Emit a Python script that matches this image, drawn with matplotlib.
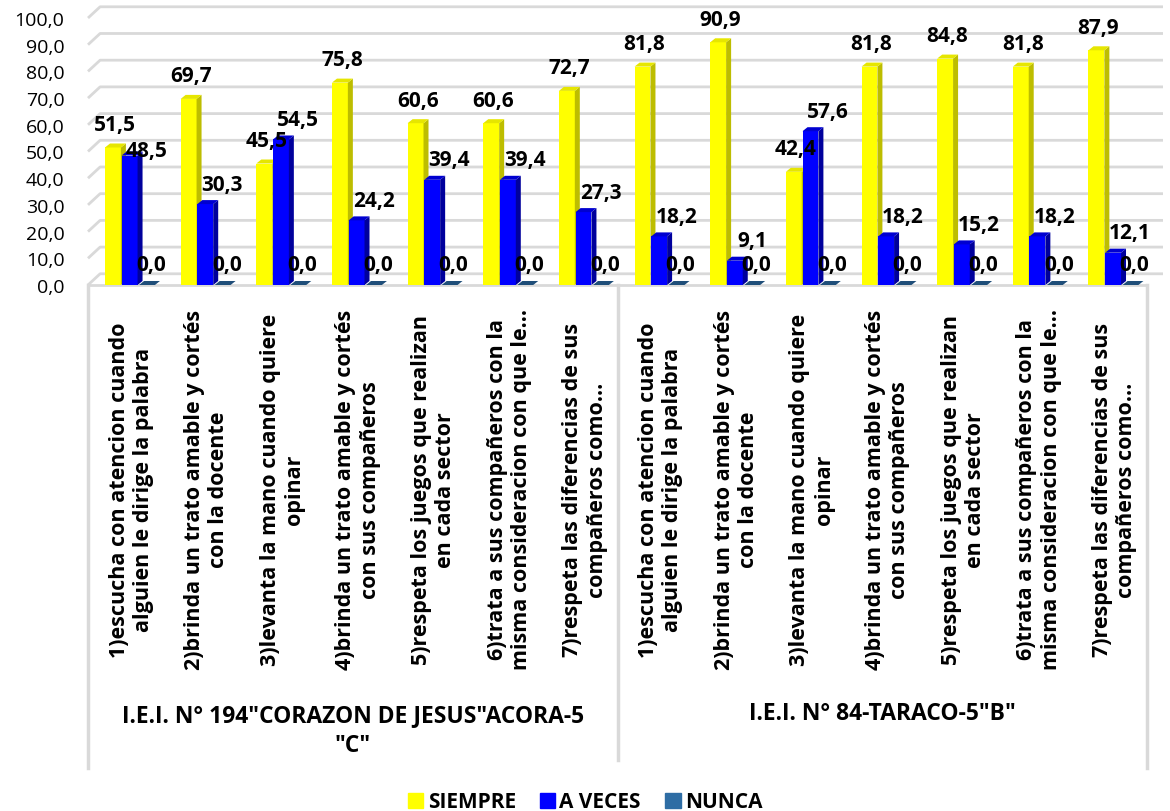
import matplotlib
matplotlib.use("Agg")
import matplotlib.pyplot as plt
from matplotlib.patches import Polygon, Patch

plt.rcParams['font.family'] = ['Open Sans', 'DejaVu Sans']

items = [
    "1)escucha con atencion cuando\nalguien le dirige la palabra",
    "2)brinda un trato amable y cortés\ncon la docente",
    "3)levanta la mano cuando quiere\nopinar",
    "4)brinda un trato amable y cortés\ncon sus compañeros",
    "5)respeta los juegos que realizan\nen cada sector",
    "6)trata a sus compañeros con la\nmisma consideracion con que le...",
    "7)respeta las diferencias de sus\ncompañeros como...",
]
categories = items + items
groups = ['I.E.I. N° 194"CORAZON DE JESUS"ACORA-5\n"C"', 'I.E.I. N° 84-TARACO-5"B"']
siempre = [51.5, 69.7, 45.5, 75.8, 60.6, 60.6, 72.7, 81.8, 90.9, 42.4, 81.8, 84.8, 81.8, 87.9]
a_veces = [48.5, 30.3, 54.5, 24.2, 39.4, 39.4, 27.3, 18.2, 9.1, 57.6, 18.2, 15.2, 18.2, 12.1]
nunca = [0.0] * 14
yticks = [0, 10, 20, 30, 40, 50, 60, 70, 80, 90, 100]

fig = plt.figure(figsize=(11.7, 8.12), dpi=100)
ax = fig.add_axes([88 / 1170, (812 - 286) / 812, (1163 - 88) / 1170, 267 / 812])
ax.set_xlim(-0.5, 13.71)
ax.set_ylim(0, 100)
for s in ax.spines.values():
    s.set_visible(False)

dx, dy = 0.066, 1.5   # depth of the fake 3d faces
w = 0.21
grid_c = '#D9D9D9'

# gridlines with a slanted left wall
for v in yticks:
    ax.plot([-0.5, -0.5 + 0.16, 13.71], [v, v + 4.2, v + 4.2], color=grid_c, lw=2, zorder=0,
            clip_on=False, solid_capstyle='butt')
ax.plot([-0.5, 13.5], [0, 0], color=grid_c, lw=2, zorder=0, clip_on=False)

series = [
    (siempre, -0.17, '#FFFF00', '#BDBD00', '#E6E600', 'SIEMPRE'),
    (a_veces, 0.05, '#0000FF', '#00009C', '#0000D0', 'A VECES'),
    (nunca, 0.28, '#2E6DA4', '#1F4E79', '#1F4E79', 'NUNCA'),
]

for vals, off, front, side, top, name in series:
    xs = [i + off for i in range(len(vals))]
    ax.bar(xs, vals, width=w, color=front, zorder=2)
    for x, h in zip(xs, vals):
        r = x + w / 2
        l = x - w / 2
        if h > 0:
            ax.add_patch(Polygon([(r, 0), (r + dx, dy), (r + dx, h + dy), (r, h)],
                                 closed=True, color=side, zorder=2, lw=0))
        ax.add_patch(Polygon([(l, h), (l + dx, h + dy), (r + dx, h + dy), (r, h)],
                             closed=True, color=top, zorder=2, lw=0))

# data labels
lab_kw = dict(textcoords='offset pixels', ha='center', va='center',
              fontsize=15, fontweight='bold', zorder=5)
for i in range(14):
    ax.annotate(f"{siempre[i]:.1f}".replace('.', ','), (i - 0.17, siempre[i]),
                xytext=(2, 23), **lab_kw)
    # blue label sits lower when it would run into the yellow one
    oy = 5 if abs(siempre[i] - a_veces[i]) < 5 else 20
    ax.annotate(f"{a_veces[i]:.1f}".replace('.', ','), (i + 0.05, a_veces[i]),
                xytext=(17, oy), **lab_kw)
    ax.annotate(f"{nunca[i]:.1f}".replace('.', ','), (i + 0.28, nunca[i]),
                xytext=(4, 20), **lab_kw)

ax.set_yticks(yticks)
ax.set_yticklabels([f"{v:.1f}".replace('.', ',') for v in yticks], fontsize=14)
ax.tick_params(axis='y', length=0, pad=17)
ax.set_xticks([])

tr = ax.get_xaxis_transform()
for i, lab in enumerate(categories):
    ax.text(i + 0.07, -0.764, lab, transform=tr, rotation=90, ha='center', va='center',
            multialignment='center', fontsize=15.5, fontweight='bold', linespacing=1.2)

ax.text(3, -1.667, groups[0], transform=tr, ha='center', va='center', fontsize=16.5,
        fontweight='bold', linespacing=1.3)
ax.text(10, -1.603, groups[1], transform=tr, ha='center', va='center', fontsize=16.5,
        fontweight='bold')

# separators between the category blocks
for x, y0 in [(-0.5, -1.81), (6.5, -1.78), (13.5, -1.81)]:
    ax.plot([x, x], [0, y0], transform=tr, color=grid_c, lw=2.5, clip_on=False)

handles = [Patch(color=c[2], label=c[5]) for c in series]
leg = fig.legend(handles=handles, loc='center', bbox_to_anchor=(0.5, 1 - 803 / 812), ncol=3,
                 frameon=False, handlelength=0.75, handleheight=0.75, handletextpad=0.2,
                 columnspacing=1.15, prop={'weight': 'bold', 'size': 15})

fig.savefig('out.png', dpi=100)
